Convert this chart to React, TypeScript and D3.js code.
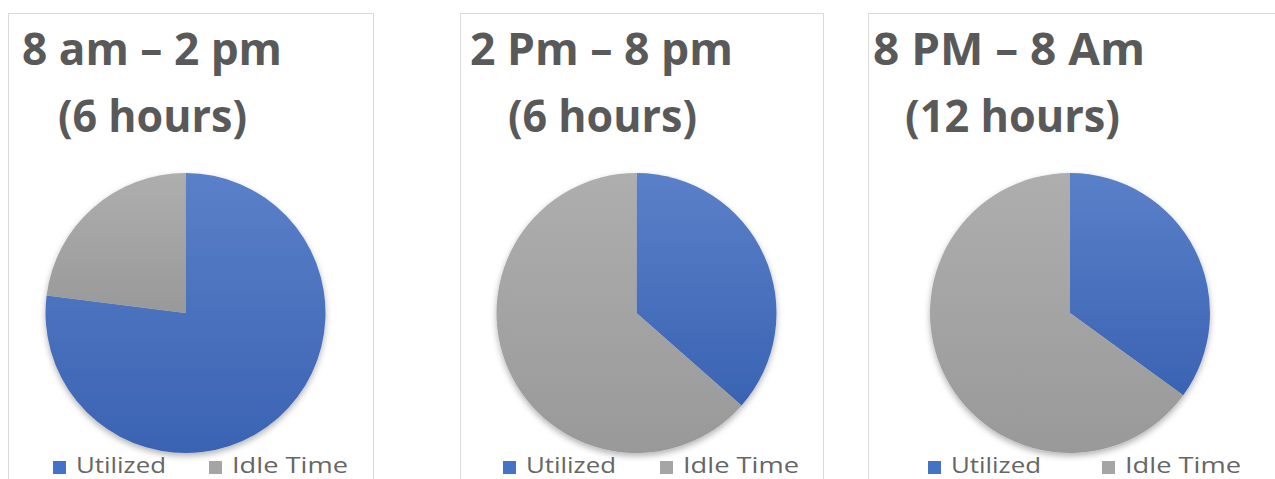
import React from "react";
import * as d3 from "d3";

const titles = ["8 am – 2 pm", "2 Pm – 8 pm", "8 PM – 8 Am"];
const durations = ["(6 hours)", "(6 hours)", "(12 hours)"];
const categories = ["Utilized", "Idle Time"];
const utilized = [77, 36.5, 35];
const idle = [23, 63.5, 65];

const W = 1275;
const H = 479;
const colors = ["#4472C4", "#A5A5A5"];

const layout = [
  { left: 8, right: 373, cx: 185.5, t1: 22, w1: 260, t2: 58, w2: 189, lg: [53, 209] },
  { left: 460, right: 823, cx: 636.5, t1: 470, w1: 263, t2: 508, w2: 189, lg: [503, 660] },
  { left: 868, right: 1290, cx: 1070, t1: 873, w1: 272, t2: 905, w2: 215, lg: [928, 1102] },
];
const legendWidths = [90, 116];

export default function App() {
  const pie = d3.pie<number>().sort(null).startAngle(0).endAngle(2 * Math.PI);
  const r = 140;
  const cy = 313;
  const arc = d3.arc<d3.PieArcDatum<number>>().innerRadius(0).outerRadius(r);
  const font = "'Open Sans', sans-serif";
  return (
    <svg
      width={W}
      height={H}
      style={{ position: "absolute", left: 0, top: 0, display: "block", background: "#fff" }}
    >
      <defs>
        <linearGradient id="gBlue" x1="0" y1="0" x2="0" y2="1">
          <stop offset="0" stopColor="#5A80C8" />
          <stop offset="1" stopColor="#3A63B3" />
        </linearGradient>
        <linearGradient id="gGray" x1="0" y1="0" x2="0" y2="1">
          <stop offset="0" stopColor="#AEAEAE" />
          <stop offset="1" stopColor="#999999" />
        </linearGradient>
        <filter id="shadow" x="-20%" y="-20%" width="140%" height="140%">
          <feDropShadow dx="0" dy="3" stdDeviation="3" floodColor="#000" floodOpacity="0.3" />
        </filter>
      </defs>
      {titles.map((t, i) => {
        const L = layout[i];
        const arcs = pie([utilized[i], idle[i]]);
        return (
          <g key={i}>
            <rect
              x={L.left + 0.5}
              y={13.5}
              width={L.right - L.left}
              height={H}
              fill="#fff"
              stroke="#D9D9D9"
              strokeWidth={1}
            />
            <text
              x={L.t1}
              y={65}
              fill="#595959"
              fontFamily={font}
              fontWeight={700}
              fontSize={45}
              textLength={L.w1}
              lengthAdjust="spacingAndGlyphs"
            >
              {t}
            </text>
            <text
              x={L.t2}
              y={132}
              fill="#595959"
              fontFamily={font}
              fontWeight={700}
              fontSize={45}
              textLength={L.w2}
              lengthAdjust="spacingAndGlyphs"
            >
              {durations[i]}
            </text>
            <g transform={`translate(${L.cx},${cy})`} filter="url(#shadow)">
              {arcs.map((a, j) => (
                <path key={j} d={arc(a) || ""} fill={j === 0 ? "url(#gBlue)" : "url(#gGray)"} />
              ))}
            </g>
            {categories.map((c, j) => (
              <g key={c}>
                <rect x={L.lg[j]} y={461} width={13} height={13} fill={colors[j]} />
                <text
                  x={L.lg[j] + 23}
                  y={473}
                  fill="#666666"
                  fontFamily={font}
                  fontSize={22}
                  textLength={legendWidths[j]}
                  lengthAdjust="spacingAndGlyphs"
                >
                  {c}
                </text>
              </g>
            ))}
          </g>
        );
      })}
    </svg>
  );
}
